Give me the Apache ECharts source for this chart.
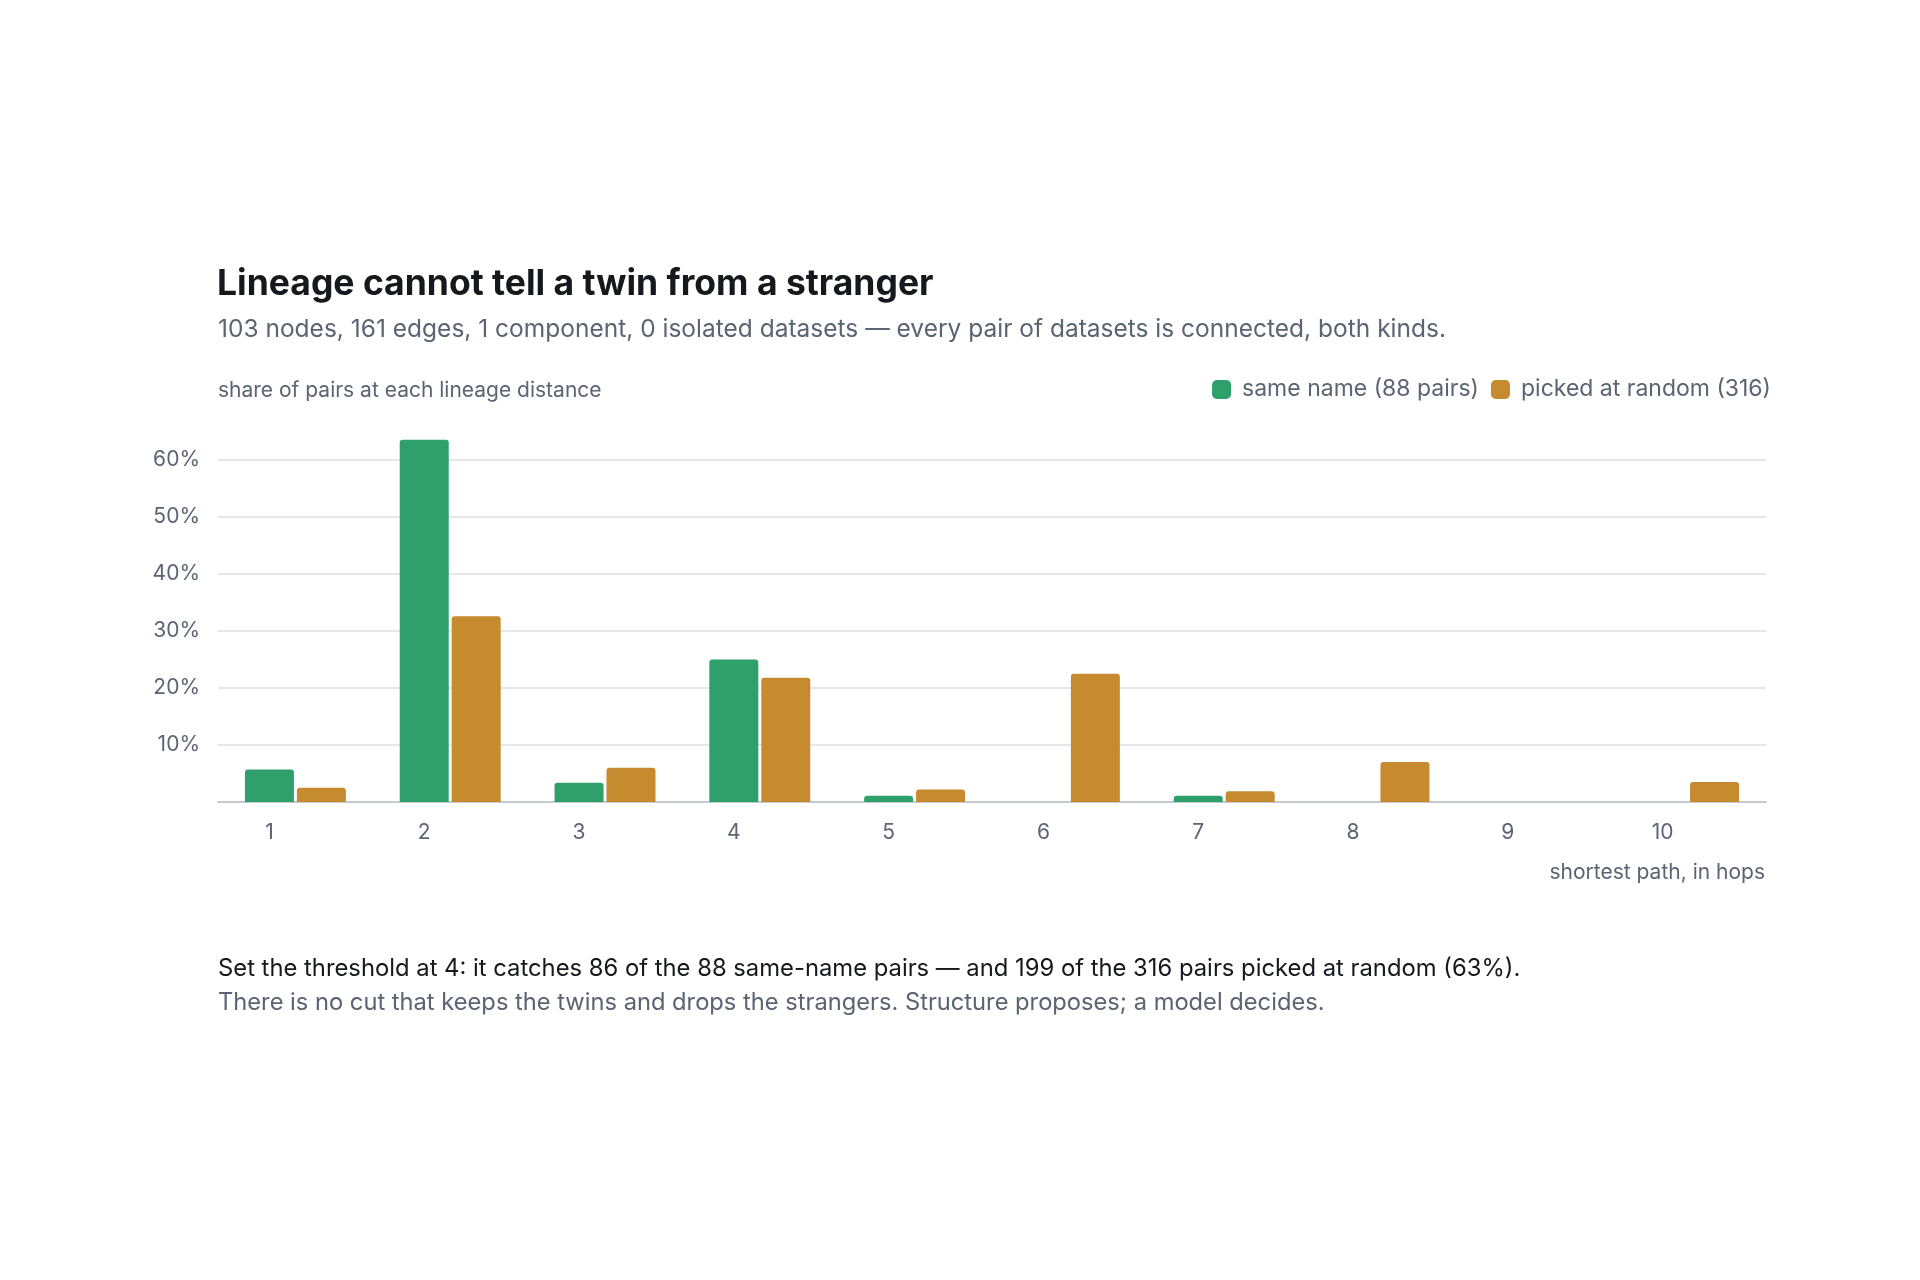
<!DOCTYPE html>
<html>
<head>
<meta charset="utf-8">
<script src="https://cdn.jsdelivr.net/npm/echarts@6/dist/echarts.min.js"></script>
<style>
  html, body { margin: 0; padding: 0; background: #fff; }
  #chart { width: 1920px; height: 1280px; }
</style>
</head>
<body>
<div id="chart"></div>
<script>
// shortest path length, in hops
const hops = ['1', '2', '3', '4', '5', '6', '7', '8', '9', '10']
// share of pairs at each distance, in percent
const sameName = [5.7, 63.6, 3.4, 25.0, 1.1, null, 1.1, null, null, null]
const pickedRandom = [2.5, 32.6, 6.0, 21.8, 2.2, 22.5, 1.9, 7.0, null, 3.5]
const yTicks = [10, 20, 30, 40, 50, 60]

const font = 'Inter, "Noto Sans", sans-serif'
const grey = '#5b6473'
const green = '#2fa06c'
const orange = '#c68a2f'

const chart = echarts.init(document.getElementById('chart'), null, { renderer: 'canvas' })

// plain text block, no title padding
function line(text, pos, size, color, weight) {
  return Object.assign({
    text,
    padding: 0,
    textStyle: { fontFamily: font, fontSize: size, fontWeight: weight || 400, color }
  }, pos)
}

chart.setOption({
  backgroundColor: '#ffffff',
  textStyle: { fontFamily: font },
  title: [
    line('Lineage cannot tell a twin from a stranger', { left: 217, top: 266 }, 35.5, '#16181d', 700),
    line('103 nodes, 161 edges, 1 component, 0 isolated datasets — every pair of datasets is connected, both kinds.',
      { left: 218, top: 317 }, 24.5, grey),
    line('share of pairs at each lineage distance', { left: 218, top: 380 }, 21, grey),
    line('shortest path, in hops', { right: 155, top: 862 }, 21, grey),
    line('Set the threshold at 4: it catches 86 of the 88 same-name pairs — and 199 of the 316 pairs picked at random (63%).',
      { left: 218, top: 957 }, 23.8, '#16181d'),
    line('There is no cut that keeps the twins and drops the strangers. Structure proposes; a model decides.',
      { left: 218, top: 991 }, 23.7, grey)
  ],
  legend: {
    right: 144, top: 373,
    icon: 'roundRect',
    itemWidth: 19, itemHeight: 19,
    itemGap: 12,
    textStyle: { fontFamily: font, fontSize: 23, color: grey, padding: [0, 0, 0, 6] },
    data: ['same name (88 pairs)', 'picked at random (316)']
  },
  grid: { left: 218, right: 154, top: 426, bottom: 478 },
  xAxis: {
    type: 'category',
    data: hops,
    axisTick: { show: false },
    axisLine: { lineStyle: { color: '#c5c9d0', width: 2 } },
    axisLabel: { color: grey, fontSize: 21, margin: 20, padding: [0, 52, 0, 0] }
  },
  yAxis: {
    type: 'value',
    min: 0, max: 66, interval: 10,
    axisLine: { show: false },
    axisTick: { show: false },
    axisLabel: {
      color: grey, fontSize: 21, margin: 18,
      showMinLabel: false, showMaxLabel: false,
      formatter: (v) => (yTicks.indexOf(v) >= 0 ? v + '%' : '')
    },
    splitLine: { showMinLine: false, showMaxLine: false, lineStyle: { color: '#e5e7eb', width: 2 } }
  },
  series: [
    {
      name: 'same name (88 pairs)',
      type: 'bar',
      data: sameName,
      barWidth: 49,
      barGap: '6%',
      itemStyle: { color: green, borderRadius: [3, 3, 0, 0] }
    },
    {
      name: 'picked at random (316)',
      type: 'bar',
      data: pickedRandom,
      barWidth: 49,
      barGap: '6%',
      itemStyle: { color: orange, borderRadius: [3, 3, 0, 0] }
    }
  ]
})
</script>
</body>
</html>
